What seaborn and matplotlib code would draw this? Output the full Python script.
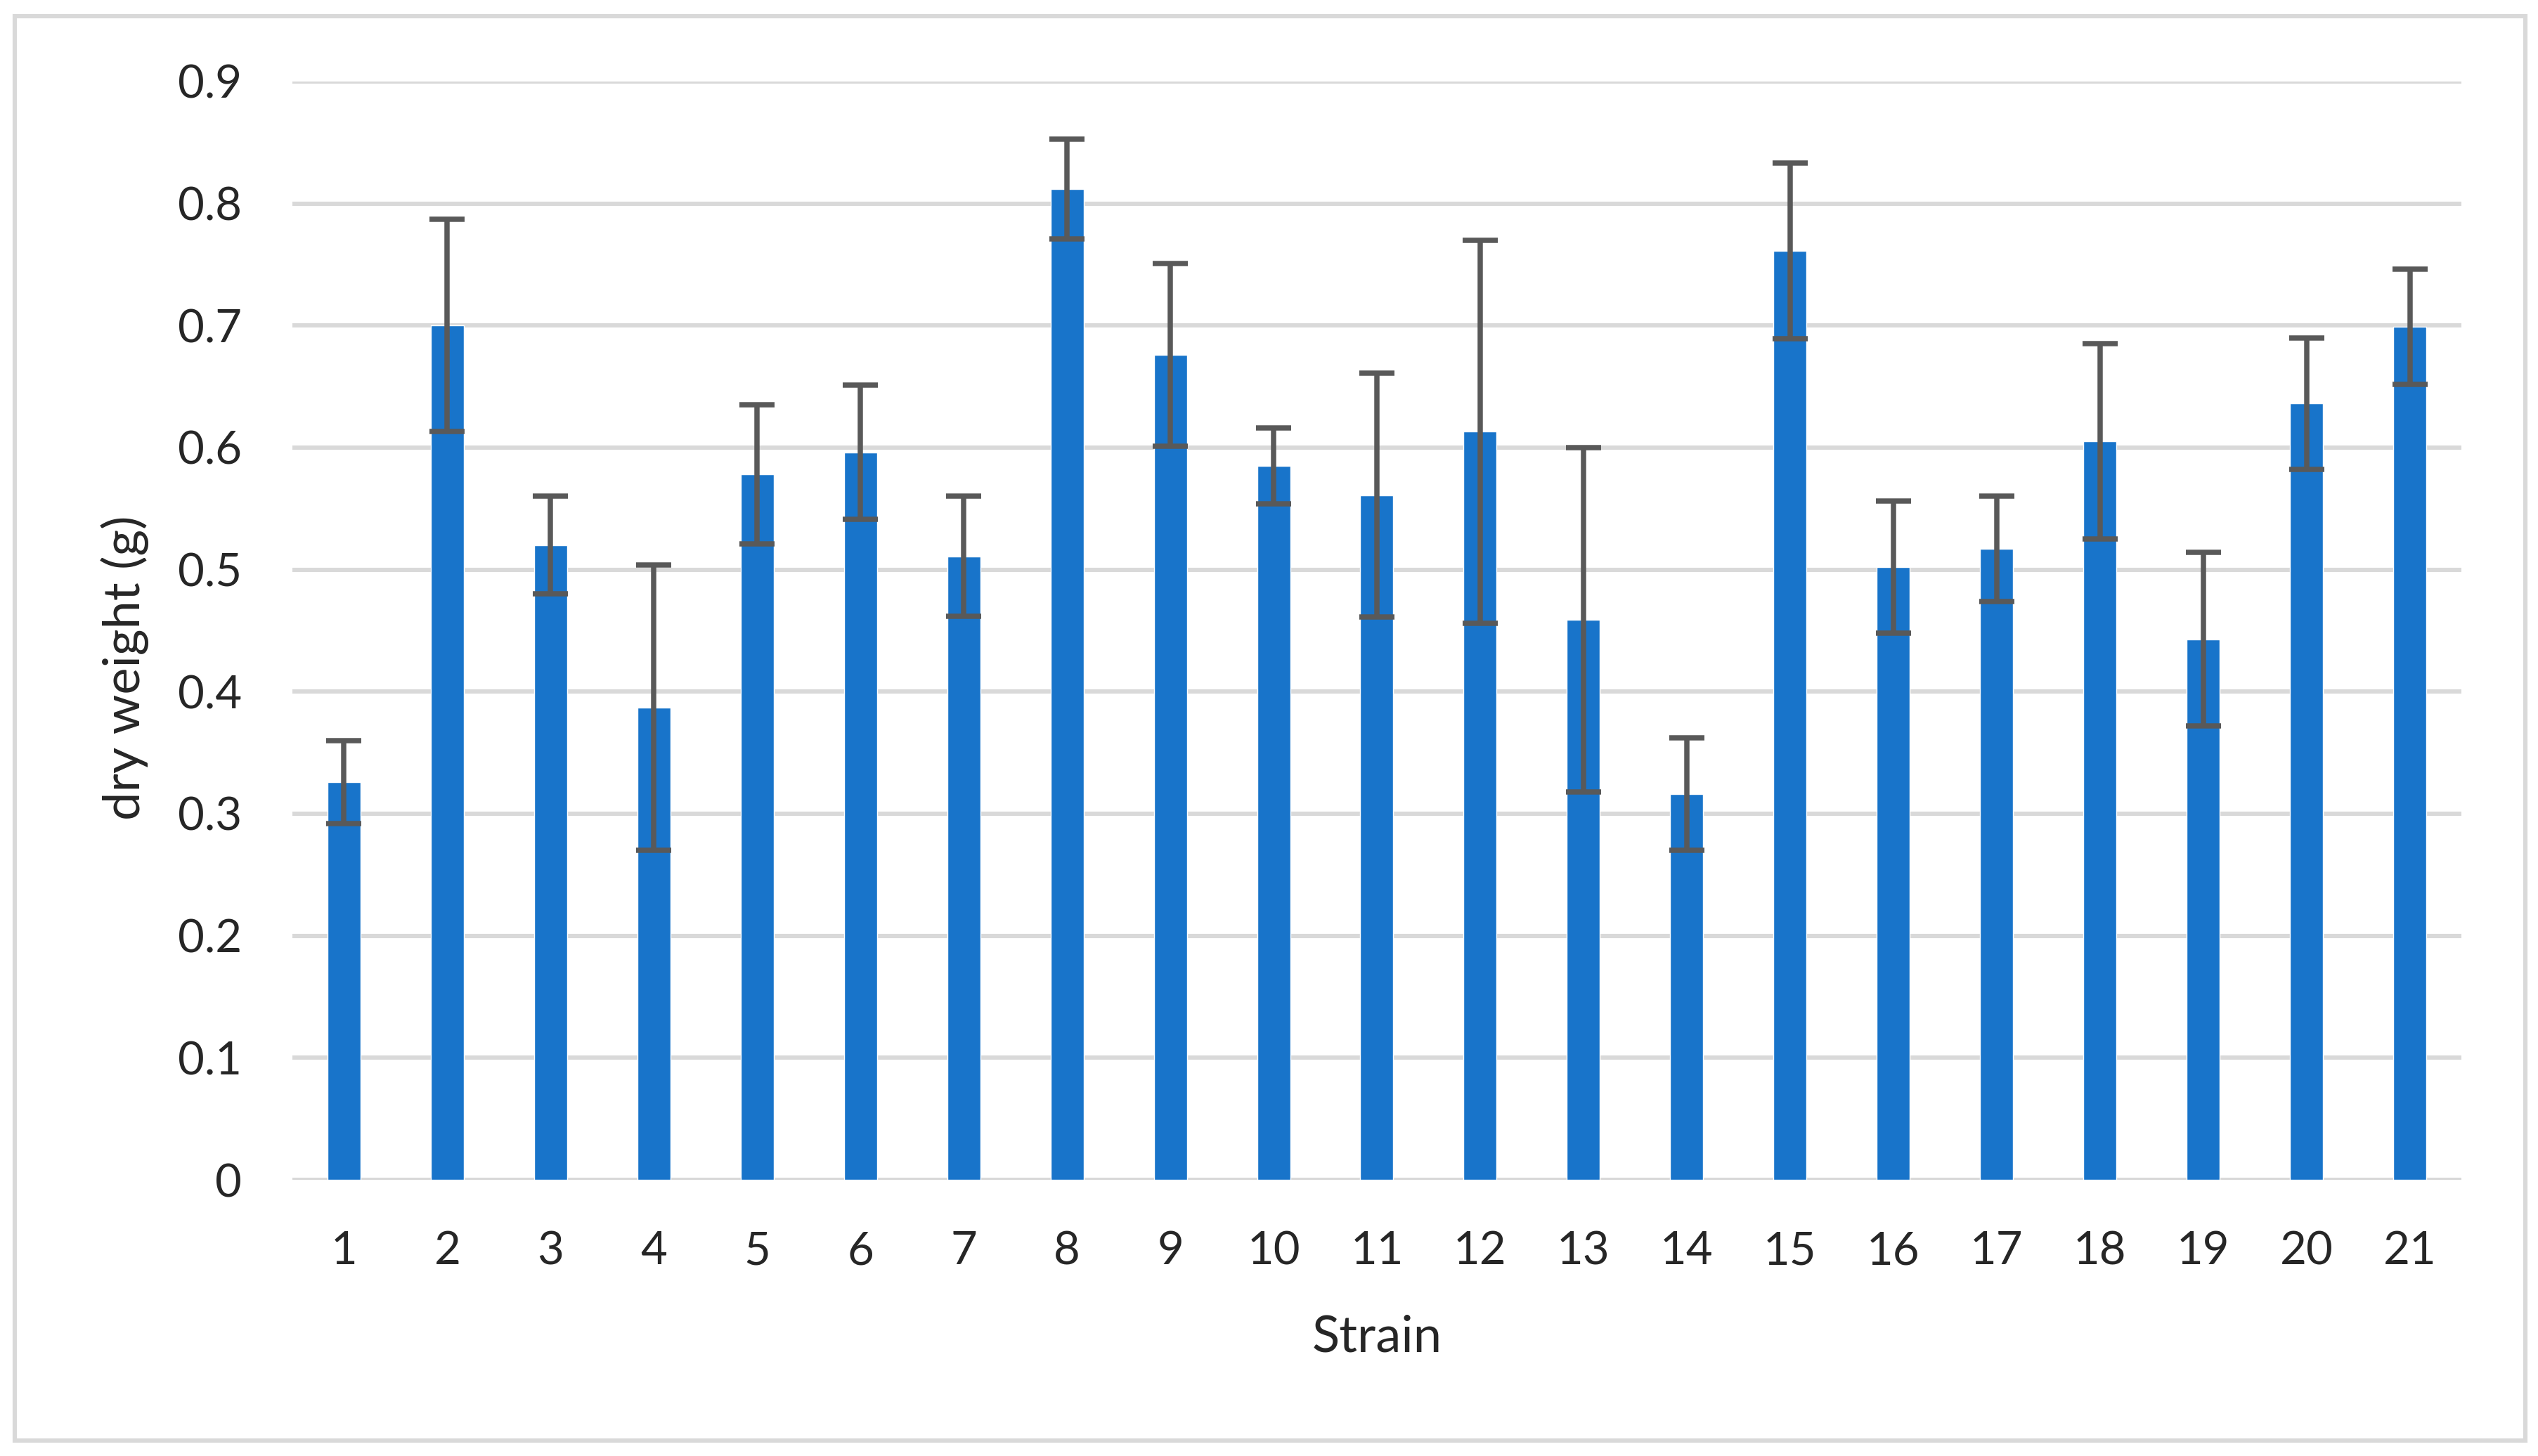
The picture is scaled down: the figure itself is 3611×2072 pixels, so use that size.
import matplotlib
matplotlib.use("Agg")
import matplotlib.pyplot as plt
import seaborn as sns
import pandas as pd
from matplotlib.patches import Rectangle

# values
strains = [str(i) for i in range(1, 22)]
dry_weight = [0.326, 0.700, 0.520, 0.387, 0.578, 0.596, 0.511, 0.812, 0.676, 0.585, 0.561,
              0.613, 0.459, 0.316, 0.761, 0.502, 0.517, 0.605, 0.443, 0.636, 0.699]
err = [0.034, 0.087, 0.040, 0.117, 0.057, 0.055, 0.049, 0.041, 0.075, 0.031, 0.100,
       0.157, 0.141, 0.046, 0.072, 0.054, 0.043, 0.080, 0.071, 0.054, 0.047]
y_ticks = [0, 0.1, 0.2, 0.3, 0.4, 0.5, 0.6, 0.7, 0.8, 0.9]
y_ticklabels = ["0", "0.1", "0.2", "0.3", "0.4", "0.5", "0.6", "0.7", "0.8", "0.9"]

df = pd.DataFrame({"Strain": strains, "dry weight (g)": dry_weight, "err": err})

sns.set_style("white")
plt.rcParams["font.family"] = ["Lato", "DejaVu Sans"]

fig = plt.figure(figsize=(36.11, 20.72), dpi=100)
ax = fig.add_axes([0.1152, 0.18967, 0.85461, 0.75435])

sns.barplot(data=df, x="Strain", y="dry weight (g)", order=strains, color="#1874CA",
            saturation=1, width=0.32, errorbar=None, ax=ax, zorder=2)

# error bars in dark grey
ax.errorbar(x=range(len(strains)), y=df["dry weight (g)"], yerr=df["err"], fmt="none",
            ecolor="#595959", elinewidth=5.4, capsize=18, capthick=5.4, zorder=3)

ax.set_ylim(0, 0.9)
ax.set_xlim(-0.5, len(strains) - 0.5)
ax.set_yticks(y_ticks)
ax.set_yticklabels(y_ticklabels)
ax.yaxis.grid(True, color="#d9d9d9", linewidth=4.4)
ax.set_axisbelow(True)
for s in ax.spines.values():
    s.set_visible(False)

ax.tick_params(axis="y", length=0, pad=52, labelsize=47)
ax.tick_params(axis="x", length=0, pad=52, labelsize=47)

ax.set_xlabel("Strain", fontsize=52)
ax.set_ylabel("dry weight (g)", fontsize=52)
ax.xaxis.set_label_coords(0.5, -0.143)
ax.yaxis.set_label_coords(-0.0774, 0.466)
ax.xaxis.label.set_va("center")
ax.yaxis.label.set_va("center")

# light grey frame around the whole chart
fig.patches.append(Rectangle((0.0058, 0.0106), 0.9892, 0.9784, transform=fig.transFigure,
                             fill=False, edgecolor="#d9d9d9", linewidth=4.4))

fig.savefig("out.png", dpi=100)
